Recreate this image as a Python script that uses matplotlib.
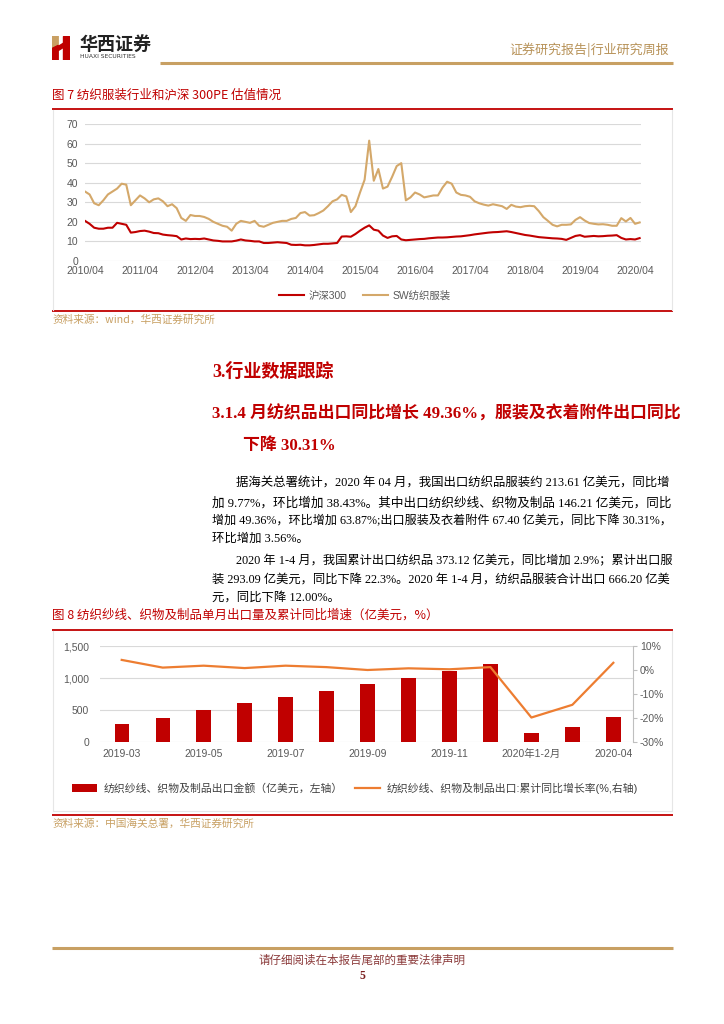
import matplotlib
matplotlib.use("Agg")
import matplotlib.pyplot as plt
from matplotlib.lines import Line2D
from matplotlib.patches import Polygon

plt.rcParams['font.family'] = ['Liberation Sans', 'Noto Sans CJK SC']
CJK = ['Noto Sans CJK SC', 'DejaVu Sans']
SERIF = ['Liberation Serif', 'Noto Sans CJK SC']

RED = "#C00000"; GOLD = "#D4A86A"; ORANGE = "#ED7D31"
GRAY = "#595959"; GRID = "#D9D9D9"; TAN = "#C8A063"

# ---- chart 1 data: monthly PE, 2010/04 .. 2020/05 ----
pe_ticks = ["2010/04", "2011/04", "2012/04", "2013/04", "2014/04", "2015/04",
            "2016/04", "2017/04", "2018/04", "2019/04", "2020/04"]
hs300 = [20.5, 19, 17, 16.5, 16.5, 17, 17, 19.5, 19, 18.5, 14.5, 14.8, 15.3, 15.5, 15, 14.3,
         14.2, 13.5, 13.2, 13, 12.7, 11, 11.5, 11.2, 11.3, 11.2, 11.5, 11, 10.5, 10.3, 10, 10,
         10, 10.4, 11, 10.5, 10.3, 10, 10, 9.2, 9.2, 9.4, 9.6, 9.4, 9.2, 8.3, 8.2, 8.3, 8, 8,
         8.2, 8.5, 8.8, 8.8, 9, 9.2, 12.5, 12.6, 12.4, 13.8, 15.5, 17, 18.2, 16, 15.5, 13, 11.8,
         12.6, 12.8, 11, 10.6, 10.8, 11, 11.2, 11.3, 11.6, 11.8, 12, 12, 12.1, 12.3, 12.5, 12.6,
         12.9, 13.2, 13.6, 13.9, 14.2, 14.5, 14.7, 14.8, 15, 15.2, 14.8, 14.3, 13.8, 13.3, 13,
         12.6, 12.2, 12, 11.8, 11.6, 11.5, 11.3, 10.8, 11.8, 12.8, 13.2, 12.4, 12.6, 12.8, 12.6,
         12.7, 12.9, 13, 13.2, 11.8, 11, 11.2, 11, 11.7]
sw_textile = [35.5, 34, 29.5, 28.5, 31, 34, 35.5, 37, 39.5, 39, 28.5, 31, 33.5, 32, 30, 31.5,
              32, 30.5, 28, 29, 27, 22, 20.5, 23.5, 23, 23, 22.5, 21.5, 20, 19, 18, 17.5, 15.5,
              19, 20.5, 20, 19.5, 20.5, 18, 17.5, 18.5, 19.5, 20, 20.5, 20.5, 21.5, 22, 24.5, 25,
              23.2, 23.4, 24.5, 25.8, 28, 30.5, 31.5, 33.8, 33, 25, 28, 35, 41.5, 61.5, 41, 47,
              37, 38, 43, 48.5, 50, 31, 32.5, 35, 34, 32.5, 33, 33.5, 33.5, 37.5, 40.5, 39.5, 35,
              33.8, 33.5, 32.8, 30.5, 29.5, 28.8, 28.3, 29, 28.5, 28, 26.6, 28.7, 27.8, 27.5, 28,
              28.2, 28, 25.5, 22.4, 20.5, 18.5, 17.7, 18.5, 18.5, 18.7, 21, 22.4, 20.7, 19.4, 19,
              18.7, 18.8, 18.5, 18, 18, 21.9, 20.2, 22, 19, 19.7]

# ---- chart 2 data ----
months2 = ["2019-03", "2019-04", "2019-05", "2019-06", "2019-07", "2019-08", "2019-09",
           "2019-10", "2019-11", "2019-12", "2020年1-2月", "2020-03", "2020-04"]
export_amt = [280, 379, 493, 602, 706, 804, 903, 1007, 1105, 1220, 145, 239, 384]
export_yoy = [4.2, 1.0, 1.8, 0.8, 1.8, 1.2, 0.0, 0.7, 0.3, 1.2, -19.8, -14.5, 3.0]

W, H = 724, 1024
fig = plt.figure(figsize=(W / 100, H / 100), dpi=100)
fx = lambda x: x / W
fy = lambda y: 1 - y / H

def hline(x0, x1, y, color, lw):
    fig.add_artist(Line2D([fx(x0), fx(x1)], [fy(y), fy(y)], transform=fig.transFigure,
                          color=color, lw=lw, solid_capstyle="butt"))

def vline(x, y0, y1, color, lw):
    fig.add_artist(Line2D([fx(x), fx(x)], [fy(y0), fy(y1)], transform=fig.transFigure,
                          color=color, lw=lw))

def txt(x, y, s, size, color="black", family=CJK, ha="left", weight="normal"):
    return fig.text(fx(x), fy(y), s, fontsize=size, color=color, family=family, ha=ha,
                    va="center", fontweight=weight)

# ---- header ----
lg = fig.add_axes([fx(52), fy(60), fx(18), 24 / H])
lg.set_xlim(0, 16); lg.set_ylim(23, 0); lg.axis("off")
lg.add_patch(Polygon([(0, 0), (5.5, 0), (5.5, 9), (0, 12)], color="#C9A063"))
lg.add_patch(Polygon([(0, 12), (5.5, 9), (5.5, 23), (0, 23)], color=RED))
lg.add_patch(Polygon([(5.5, 10), (10, 7), (10, 11), (5.5, 14)], color=RED))
lg.add_patch(Polygon([(10, 0), (15, 0), (15, 23), (10, 23)], color=RED))
txt(79, 44, "华西证券", 13, "#222222", weight="bold")
txt(80, 57, "HUAXI SECURITIES", 4.3, "#333333", family=['DejaVu Sans'])
txt(669, 50, "证券研究报告|行业研究周报", 9.4, "#B8935A", ha="right")
hline(160, 673, 63, TAN, 2.2)

# ---- chart 1 frame ----
txt(52, 95, "图 7 纺织服装行业和沪深 300PE 估值情况", 9, RED)
hline(52, 673, 109, RED, 1.3)
hline(52, 673, 311, RED, 1.3)
vline(53, 110, 310, "#E6E6E6", 0.8); vline(672, 110, 310, "#E6E6E6", 0.8)
txt(52, 320, "资料来源：wind，华西证券研究所", 7.7, TAN)

ax1 = fig.add_axes([fx(85), fy(261), fx(556), 137 / H])
m = list(range(len(hs300)))
ax1.plot(m, hs300, color=RED, lw=1.5, label="沪深300")
ax1.plot(m, sw_textile, color=GOLD, lw=1.5, label="SW纺织服装")
ax1.set_xlim(0, len(hs300) - 0.7); ax1.set_ylim(0, 70)
ax1.set_yticks(range(0, 71, 10))
ax1.set_xticks(range(0, 121, 12)); ax1.set_xticklabels(pe_ticks)
ax1.grid(axis="y", color=GRID, lw=0.8); ax1.set_axisbelow(True)
for s in ax1.spines.values(): s.set_visible(False)
ax1.tick_params(length=0, labelsize=7.5, labelcolor=GRAY, pad=5)
ax1.tick_params(axis="x", pad=3.5)
ax1.legend(ncol=2, loc="center", bbox_to_anchor=(fx(365), fy(296)),
           bbox_transform=fig.transFigure, frameon=False, fontsize=7.5,
           handlelength=2.4, columnspacing=1.6, handletextpad=0.4, labelcolor=GRAY)

# ---- text section ----
txt(212, 372, "3.行业数据跟踪", 13, RED, family=SERIF, weight="bold")
txt(212, 414, "3.1.4 月纺织品出口同比增长 49.36%，服装及衣着附件出口同比", 12.2, RED,
    family=SERIF, weight="bold")
txt(243, 446, "下降 30.31%", 12.2, RED, family=SERIF, weight="bold")
body = [(236, 484, "据海关总署统计，2020 年 04 月，我国出口纺织品服装约 213.61 亿美元，同比增", True),
        (212, 503, "加 9.77%，环比增加 38.43%。其中出口纺织纱线、织物及制品 146.21 亿美元，同比", True),
        (212, 521, "增加 49.36%，环比增加 63.87%;出口服装及衣着附件 67.40 亿美元，同比下降 30.31%，", True),
        (212, 539, "环比增加 3.56%。", False),
        (236, 561, "2020 年 1-4 月，我国累计出口纺织品 373.12 亿美元，同比增加 2.9%；累计出口服", True),
        (212, 580, "装 293.09 亿美元，同比下降 22.3%。2020 年 1-4 月，纺织品服装合计出口 666.20 亿美", True),
        (212, 598, "元，同比下降 12.00%。", False)]
rend = fig.canvas.get_renderer()
for x, y, s, full in body:
    t = txt(x, y, s, 8.9, "black", family=SERIF)
    if full:  # fit full lines to the right margin, like the justified original
        w = t.get_window_extent(rend).width
        t.set_fontsize(8.9 * (672 - x) / w)

# ---- chart 2 frame ----
txt(52, 615, "图 8 纺织纱线、织物及制品单月出口量及累计同比增速（亿美元，%）", 9, RED)
hline(52, 673, 630, RED, 1.3)
hline(52, 673, 815, RED, 1.3)
vline(53, 631, 811, "#E6E6E6", 0.8); vline(672, 631, 811, "#E6E6E6", 0.8)
hline(53, 672, 811, "#E6E6E6", 0.8)
txt(52, 824, "资料来源：中国海关总署，华西证券研究所", 7.7, TAN)

ax2 = fig.add_axes([fx(100), fy(742), fx(533), 96 / H])
x2 = list(range(len(months2)))
bars = ax2.bar(x2, export_amt, width=0.35, color=RED,
               label="纺织纱线、织物及制品出口金额（亿美元，左轴）")
ax2.set_xlim(-0.53, 12.48); ax2.set_ylim(0, 1500)
ax2.set_yticks([0, 500, 1000, 1500]); ax2.set_yticklabels(["0", "500", "1,000", "1,500"])
ax2.set_xticks(x2[::2]); ax2.set_xticklabels(months2[::2])
ax2.grid(axis="y", color=GRID, lw=0.8); ax2.set_axisbelow(True)
for s in ax2.spines.values(): s.set_visible(False)
ax2.tick_params(length=0, labelsize=7.5, labelcolor=GRAY, pad=8)
ax2.tick_params(axis="x", pad=5)

ax3 = ax2.twinx()
ln, = ax3.plot(x2, export_yoy, color=ORANGE, lw=1.6,
               label="纺织纱线、织物及制品出口:累计同比增长率(%,右轴)")
ax3.set_ylim(-30, 10); ax3.set_yticks([-30, -20, -10, 0, 10])
ax3.set_yticklabels(["-30%", "-20%", "-10%", "0%", "10%"])
for k, s in ax3.spines.items(): s.set_visible(k == "right")
ax3.spines["right"].set_color("#BFBFBF")
ax3.tick_params(axis="y", length=3, color="#BFBFBF", labelsize=7.5, labelcolor=GRAY, pad=2)

ax2.legend(handles=[bars, ln], ncol=2, loc="center", bbox_to_anchor=(fx(355), fy(788)),
           bbox_transform=fig.transFigure, frameon=False, fontsize=7.8,
           handlelength=2.3, columnspacing=1.2, handletextpad=0.6, labelcolor="#404040")

# ---- footer ----
hline(52, 673, 948, TAN, 2.2)
txt(362, 960, "请仔细阅读在本报告尾部的重要法律声明", 8.3, "#8B3A3A", ha="center")
txt(362, 976, "5", 8.5, "#7B1F1F", family=SERIF, ha="center", weight="bold")

fig.savefig("out.png", dpi=100)
